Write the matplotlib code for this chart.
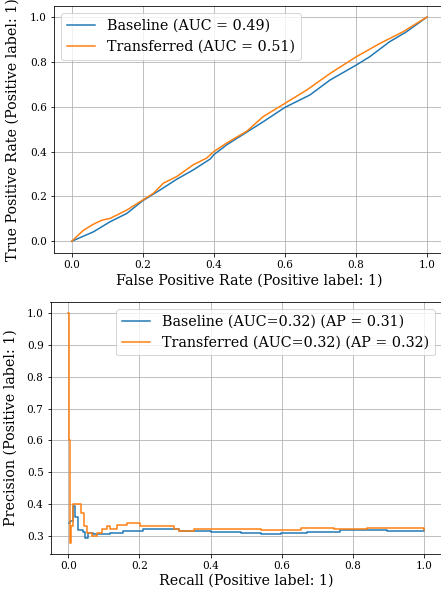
import numpy as np
import matplotlib.pyplot as plt

plt.rcParams['font.family'] = ['DejaVu Serif']

# ROC curves (fpr, tpr)
base_fpr = [0.0, 0.061, 0.108, 0.155, 0.2, 0.249, 0.296, 0.343, 0.39, 0.4, 0.437, 0.493, 0.539, 0.6, 0.67, 0.727, 0.8, 0.838, 0.894, 0.941, 1.0]
base_tpr = [0.0, 0.042, 0.087, 0.124, 0.181, 0.229, 0.277, 0.319, 0.367, 0.386, 0.431, 0.487, 0.533, 0.597, 0.652, 0.719, 0.785, 0.822, 0.889, 0.933, 1.0]
trans_fpr = [0.0, 0.033, 0.061, 0.085, 0.108, 0.155, 0.2, 0.23, 0.258, 0.296, 0.343, 0.38, 0.4, 0.437, 0.493, 0.539, 0.6, 0.661, 0.727, 0.8, 0.866, 0.931, 1.0]
trans_tpr = [0.0, 0.049, 0.076, 0.094, 0.102, 0.139, 0.184, 0.214, 0.259, 0.289, 0.342, 0.371, 0.4, 0.439, 0.491, 0.556, 0.615, 0.674, 0.748, 0.822, 0.881, 0.933, 1.0]
roc_labels = ['Baseline (AUC = 0.49)', 'Transferred (AUC = 0.51)']

# precision-recall curves (recall, precision)
base_rec = [0.002, 0.005, 0.014, 0.019, 0.028, 0.042, 0.047, 0.056, 0.07, 0.117, 0.155, 0.211, 0.23, 0.286, 0.31, 0.4, 0.485, 0.541, 0.597, 0.672, 0.765, 0.895, 1.0]
base_prec = [0.34, 0.345, 0.395, 0.36, 0.318, 0.313, 0.294, 0.31, 0.305, 0.31, 0.315, 0.32, 0.322, 0.322, 0.315, 0.313, 0.309, 0.305, 0.31, 0.313, 0.317, 0.315, 0.318]
trans_rec = [0.0, 0.003, 0.005, 0.008, 0.012, 0.037, 0.044, 0.052, 0.066, 0.08, 0.094, 0.108, 0.117, 0.138, 0.164, 0.202, 0.258, 0.296, 0.31, 0.352, 0.485, 0.541, 0.653, 0.746, 0.84, 1.0]
trans_prec = [1.0, 0.6, 0.278, 0.33, 0.4, 0.37, 0.33, 0.31, 0.3, 0.31, 0.32, 0.33, 0.32, 0.335, 0.34, 0.33, 0.33, 0.322, 0.316, 0.32, 0.321, 0.317, 0.325, 0.32, 0.323, 0.318]
pr_labels = ['Baseline (AUC=0.32) (AP = 0.31)', 'Transferred (AUC=0.32) (AP = 0.32)']

W, H = 441, 596
fig = plt.figure(figsize=(W / 72, H / 72), dpi=72)
ax1 = fig.add_axes([53.9 / W, 1 - 252.5 / H, (444.8 - 53.9) / W, (252.5 - 5.8) / H])
ax2 = fig.add_axes([50.5 / W, 1 - 554.3 / H, (441.8 - 50.5) / W, (554.3 - 301.7) / H])

fs = 14.3
ax1.plot(base_fpr, base_tpr, color='#1f77b4', label=roc_labels[0])
ax1.plot(trans_fpr, trans_tpr, color='#ff7f0e', label=roc_labels[1])
ax1.set_xlabel('False Positive Rate (Positive label: 1)', fontsize=fs)
ax1.set_ylabel('True Positive Rate (Positive label: 1)', fontsize=fs)
ax1.yaxis.set_label_coords(-0.087, 0.5)
ax1.legend(loc='upper left', fontsize=fs)
ax1.grid(True)

ax2.plot(base_rec, base_prec, color='#1f77b4', drawstyle='steps-post', label=pr_labels[0])
ax2.plot(trans_rec, trans_prec, color='#ff7f0e', drawstyle='steps-post', label=pr_labels[1])
ax2.set_xlabel('Recall (Positive label: 1)', fontsize=fs, labelpad=2)
ax2.set_ylabel('Precision (Positive label: 1)', fontsize=fs)
ax2.yaxis.set_label_coords(-0.083, 0.5)
ax2.legend(loc='upper right', fontsize=fs)
ax2.grid(True)

for ax in (ax1, ax2):
    ax.tick_params(labelsize=10.5)
    ax.set_xlim(-0.05, 1.05)
ax1.set_ylim(-0.05, 1.05)
ax2.set_ylim(0.2414, 1.0365)

fig.savefig('out.png', dpi=72)
